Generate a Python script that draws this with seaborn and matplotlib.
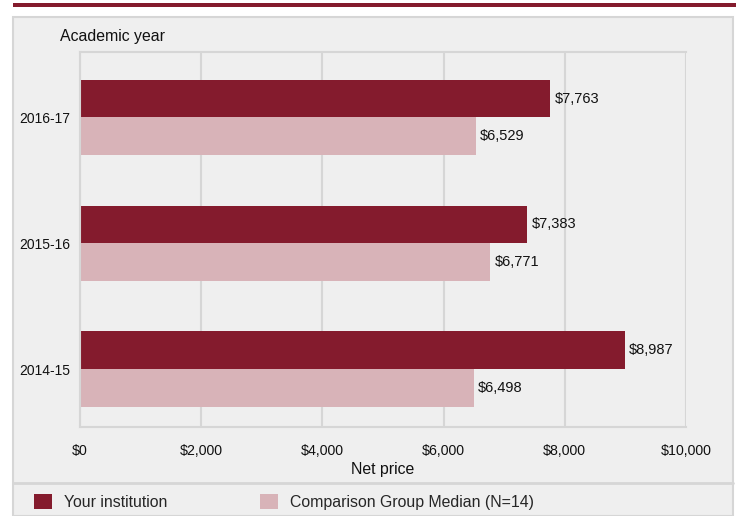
import matplotlib
matplotlib.use("Agg")
import matplotlib.pyplot as plt
from matplotlib.patches import Rectangle, Patch
from matplotlib.lines import Line2D
from matplotlib.ticker import MultipleLocator, FuncFormatter
import seaborn as sns
import pandas as pd

years = ["2016-17", "2015-16", "2014-15"]
institution = [7763, 7383, 8987]
comparison = [6529, 6771, 6498]
groups = ["Your institution", "Comparison Group Median (N=14)"]

dark = "#841b2d"
light = "#d8b3b8"
panel_bg = "#efefef"
line_gray = "#d6d6d6"

df = pd.DataFrame({
    "year": years * 2,
    "price": institution + comparison,
    "group": [groups[0]] * len(years) + [groups[1]] * len(years),
})

sns.set_theme(style="white")
plt.rcParams["font.family"] = ["Liberation Sans", "DejaVu Sans"]

fig = plt.figure(figsize=(7.36, 5.16), dpi=100)
W, H = 736, 516

# top accent band and grey panel (behind the axes)
fig.add_artist(Rectangle((13 / W, 1 - 7 / H), 723 / W, 4 / H, transform=fig.transFigure,
                         facecolor=dark, edgecolor="none", zorder=-10))
fig.add_artist(Rectangle((13 / W, 0), 720 / W, 1 - 17 / H, transform=fig.transFigure,
                         facecolor=panel_bg, edgecolor=line_gray, linewidth=1.5, zorder=-10))
fig.add_artist(Line2D([13 / W, 733 / W], [1 - 483 / H, 1 - 483 / H], transform=fig.transFigure,
                      color=line_gray, linewidth=2, zorder=-9))

ax = fig.add_axes([80 / W, 1 - 427 / H, 606 / W, 375 / H])
ax.set_facecolor(panel_bg)

sns.barplot(data=df, y="year", x="price", hue="group", order=years, hue_order=groups,
            palette=[dark, light], orient="h", width=0.6, dodge=True, ax=ax,
            legend=False, saturation=1, linewidth=0)

for cont in ax.containers:
    ax.bar_label(cont, labels=[f"${v:,.0f}" for v in cont.datavalues], padding=3,
                 fontsize=10.5, color="#111111")

ax.set_xlim(0, 10000)
ax.set_ylim(2.46, -0.52)
ax.xaxis.set_major_locator(MultipleLocator(2000))
ax.xaxis.set_minor_locator(MultipleLocator(1000))
ax.xaxis.set_major_formatter(FuncFormatter(lambda v, p: f"${v:,.0f}"))
ax.grid(axis="x", which="major", color=line_gray, linewidth=1.5)
ax.set_axisbelow(True)
for s in ax.spines.values():
    s.set_color(line_gray)
    s.set_linewidth(1.5)
ax.spines["right"].set_visible(False)

ax.tick_params(axis="x", which="major", length=7, width=1.2, color=line_gray,
               labelsize=10.2, pad=5, labelcolor="#111111")
ax.tick_params(axis="x", which="minor", length=4, width=1.2, color=line_gray)
ax.tick_params(axis="y", length=0, labelsize=10, pad=7, labelcolor="#111111")
ax.set_ylabel("")
ax.set_xlabel("Net price", fontsize=11.4, color="#111111", labelpad=3)
fig.text(60 / W, 1 - 37 / H, "Academic year", fontsize=11.4, color="#111111", va="center")

handles = [Patch(facecolor=dark, edgecolor="none"), Patch(facecolor=light, edgecolor="none")]
fig.legend(handles, groups, loc="center left", bbox_to_anchor=(28 / W, 1 - 502 / H), ncol=2,
           frameon=False, fontsize=11.4, handlelength=1.1, handleheight=1.1,
           handletextpad=0.8, columnspacing=5.85, borderaxespad=0)

fig.savefig("out.png", dpi=100)
